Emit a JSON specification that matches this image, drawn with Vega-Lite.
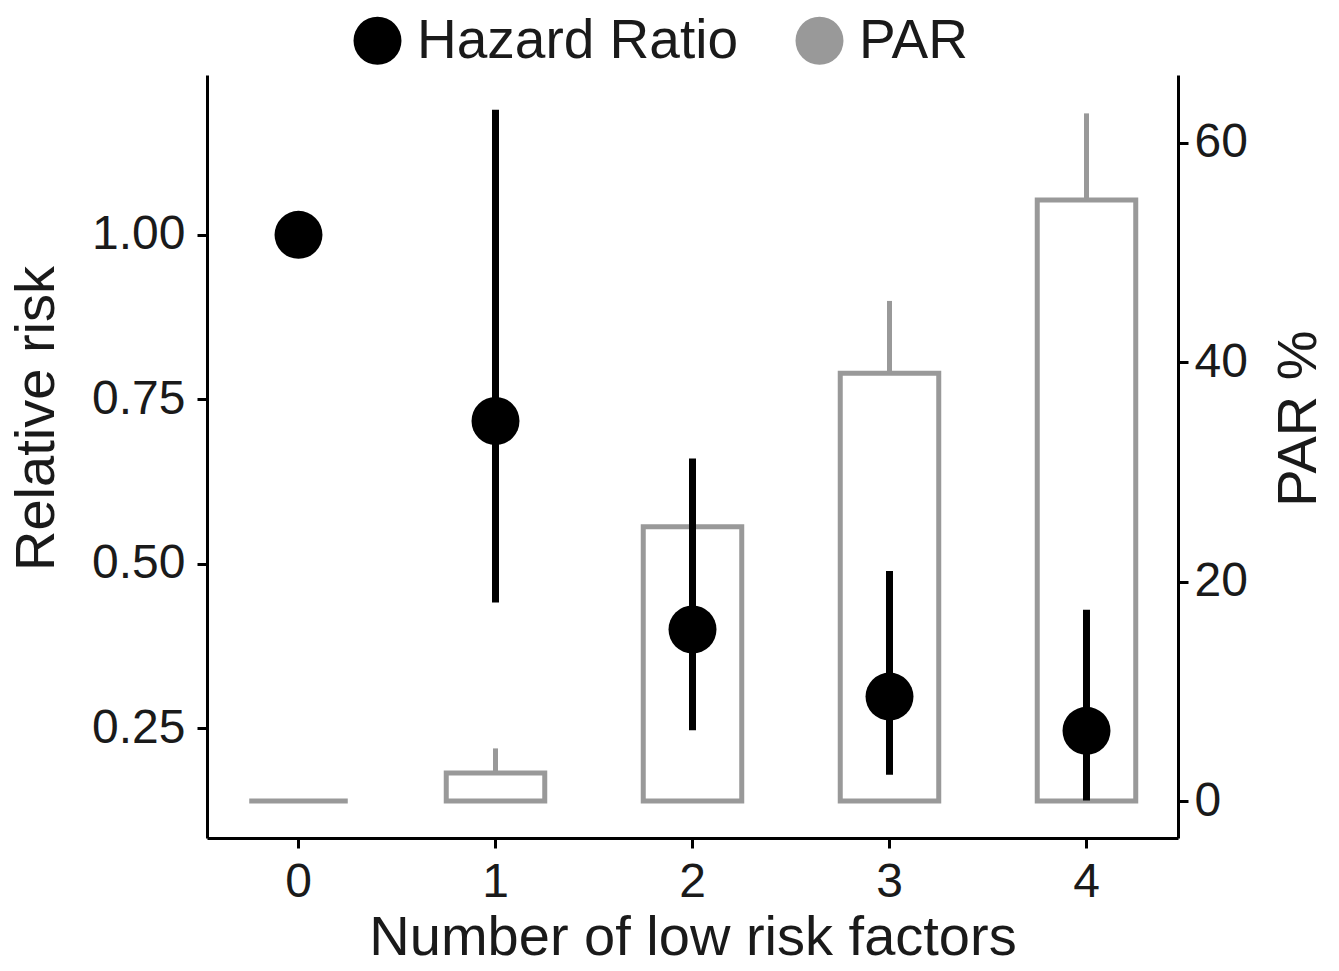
{
  "$schema": "https://vega.github.io/schema/vega-lite/v6.json",
  "width": 971,
  "height": 763,
  "autosize": {"type": "none"},
  "padding": {"left": 207, "top": 75, "right": 161, "bottom": 133},
  "background": "white",
  "config": {
    "view": {"stroke": null},
    "font": "Liberation Sans"
  },
  "data": {"values": [
    {"n": "0", "hr": 1.0, "hr_lo": null, "hr_hi": null, "par": 0, "par_hi": null},
    {"n": "1", "hr": 0.717, "hr_lo": 0.441, "hr_hi": 1.19, "par": 2.55, "par_hi": 4.8},
    {"n": "2", "hr": 0.40, "hr_lo": 0.247, "hr_hi": 0.66, "par": 25.0, "par_hi": 31.1},
    {"n": "3", "hr": 0.298, "hr_lo": 0.179, "hr_hi": 0.489, "par": 39.0, "par_hi": 45.6},
    {"n": "4", "hr": 0.246, "hr_lo": 0.14, "hr_hi": 0.43, "par": 54.8, "par_hi": 62.7}
  ]},
  "encoding": {
    "x": {
      "field": "n", "type": "ordinal",
      "scale": {"paddingInner": 0.5, "paddingOuter": 0.2145},
      "axis": {"title": "Number of low risk factors", "labelAngle": 0, "labelPadding": 10, "titlePadding": 4,
        "domainColor": "black", "domainWidth": 3, "tickColor": "black", "tickWidth": 3, "tickSize": 10,
        "labelFontSize": 48, "labelColor": "#1a1a1a", "titleFontSize": 56, "titleFontWeight": "normal", "titleColor": "#1a1a1a", "grid": false}
    }
  },
  "layer": [
    {
      "encoding": {
        "y": {
          "field": "par", "type": "quantitative",
          "scale": {"domain": [-3.37, 66.2], "nice": false, "zero": false},
          "axis": {"orient": "right", "title": "PAR %", "values": [0, 20, 40, 60], "titleAngle": 270, "titlePadding": 80, "titleY": 343, "labelPadding": 6,
            "domainColor": "black", "domainWidth": 3, "tickColor": "black", "tickWidth": 3, "tickSize": 10,
            "labelFontSize": 48, "labelColor": "#1a1a1a", "titleFontSize": 56, "titleFontWeight": "normal", "titleColor": "#1a1a1a", "grid": false}
        }
      },
      "layer": [
        {
          "mark": {"type": "bar", "filled": false, "stroke": "#999999", "strokeWidth": 5, "fill": null},
          "encoding": {"y": {"field": "par", "type": "quantitative"}, "y2": {"datum": 0}}
        },
        {
          "mark": {"type": "rule", "color": "#999999", "strokeWidth": 5},
          "encoding": {"y": {"field": "par", "type": "quantitative"}, "y2": {"field": "par_hi"}}
        }
      ]
    },
    {
      "encoding": {
        "y": {
          "field": "hr", "type": "quantitative",
          "scale": {"domain": [0.083, 1.243], "nice": false, "zero": false},
          "axis": {"orient": "left", "title": "Relative risk", "values": [0.25, 0.5, 0.75, 1.0], "format": ".2f", "labelPadding": 12, "titlePadding": 26, "titleY": 343,
            "domainColor": "black", "domainWidth": 3, "tickColor": "black", "tickWidth": 3, "tickSize": 10,
            "labelFontSize": 48, "labelColor": "#1a1a1a", "titleFontSize": 56, "titleFontWeight": "normal", "titleColor": "#1a1a1a", "grid": false}
        }
      },
      "layer": [
        {
          "mark": {"type": "rule", "color": "black", "strokeWidth": 7},
          "encoding": {"y": {"field": "hr_lo", "type": "quantitative"}, "y2": {"field": "hr_hi"}}
        },
        {
          "mark": {"type": "point", "filled": true, "opacity": 1, "size": 2300, "shape": "circle"},
          "encoding": {
            "y": {"field": "hr", "type": "quantitative"},
            "color": {
              "datum": "Hazard Ratio",
              "scale": {"domain": ["Hazard Ratio", "PAR"], "range": ["black", "#999999"]},
              "legend": {
                "title": null, "orient": "none", "direction": "horizontal", "legendX": 143, "legendY": -62,
                "symbolSize": 2300, "symbolType": "circle", "labelFontSize": 55, "labelColor": "#1a1a1a",
                "columnPadding": 54, "labelOffset": 12, "symbolOpacity": 1, "labelLimit": 0
              }
            }
          }
        }
      ]
    }
  ],
  "resolve": {"scale": {"y": "independent"}}
}
